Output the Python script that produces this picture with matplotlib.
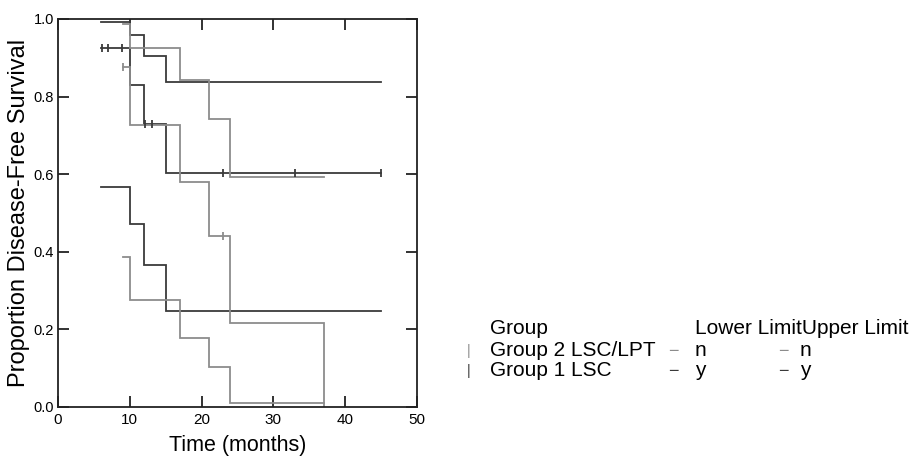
import matplotlib
matplotlib.use("Agg")
import matplotlib.pyplot as plt

# Kaplan-Meier style steps: value i holds from times[i] to times[i+1]
g1_times = [6, 10, 12, 15, 45]
g1_surv = [0.926, 0.830, 0.729, 0.604]
g1_lower = [0.568, 0.472, 0.366, 0.247]
g1_upper = [0.991, 0.959, 0.905, 0.838]
g1_censor = [6.1, 6.9, 8.9, 12.1, 13.1, 23.0, 33.0, 45.0]

g2_times = [9, 10, 17, 21, 24, 37]
g2_surv = [0.877, 0.727, 0.581, 0.441, 0.217]
g2_surv_end = 0.0
g2_lower = [0.386, 0.277, 0.179, 0.103, 0.011]
g2_upper = [0.986, 0.926, 0.843, 0.742, 0.594]
g2_censor = [9.0, 23.0]

x_ticks = [0, 10, 20, 30, 40, 50]
y_ticks = [0.0, 0.2, 0.4, 0.6, 0.8, 1.0]

dark = '#3a3a3a'
gray = '#8c8c8c'

plt.rcParams['font.family'] = ['Liberation Sans', 'DejaVu Sans']


def value_at(times, vals, t):
    v = vals[0]
    for i in range(len(vals)):
        if t >= times[i]:
            v = vals[i]
    return v


def draw_step(ax, times, vals, color, end=None):
    y = list(vals) + [vals[-1] if end is None else end]
    ax.plot(times, y, drawstyle='steps-post', color=color, lw=1.3,
            solid_joinstyle='miter')


fig = plt.figure(figsize=(9.12, 4.59), dpi=100)
ax = fig.add_axes([58 / 912, 52 / 459, 359 / 912, 388 / 459])

draw_step(ax, g1_times, g1_upper, dark)
draw_step(ax, g1_times, g1_lower, dark)
draw_step(ax, g1_times, g1_surv, dark)
draw_step(ax, g2_times, g2_upper, gray)
draw_step(ax, g2_times, g2_lower, gray)
draw_step(ax, g2_times, g2_surv, gray, end=g2_surv_end)

ax.plot(g1_censor, [value_at(g1_times, g1_surv, t) for t in g1_censor],
        ls='none', marker='|', ms=6, mew=1.3, color=dark)
ax.plot(g2_censor, [value_at(g2_times, g2_surv, t) for t in g2_censor],
        ls='none', marker='|', ms=6, mew=1.3, color=gray)

ax.set_xlim(0, 50)
ax.set_ylim(0, 1.0)
ax.set_xticks(x_ticks)
ax.set_yticks(y_ticks)
ax.set_xticklabels([str(t) for t in x_ticks], fontsize=11)
ax.set_yticklabels(['%.1f' % v for v in y_ticks], fontsize=10.5)
ax.tick_params(direction='in', length=8, width=1.3, top=True, right=True,
               color='#222222', pad=4)
ax.tick_params(axis='y', pad=3)
for s in ax.spines.values():
    s.set_linewidth(1.3)
    s.set_color('#222222')

ax.set_xlabel('Time (months)', fontsize=15.5, labelpad=6)
ax.set_ylabel('Proportion Disease-Free Survival', fontsize=17)
ax.yaxis.set_label_coords(-0.078, 0.5)

# legend drawn as text table
fs = 15
fig.text(490 / 912, 1 - 334 / 459, 'Group', fontsize=fs, va='baseline')
fig.text(695 / 912, 1 - 334 / 459, 'Lower LimitUpper Limit', fontsize=fs, va='baseline')
rows = [('Group 2 LSC/LPT', 'n', gray), ('Group 1 LSC', 'y', dark)]
for i, (name, flag, col) in enumerate(rows):
    yb = 1 - (356 + 20 * i) / 459
    fig.text(469 / 912, yb + 0.002, '|', fontsize=10, color=col, va='baseline', ha='center')
    fig.text(490 / 912, yb, name, fontsize=fs, va='baseline')
    fig.text(673 / 912, yb, '\u2212', fontsize=13, color=col, va='baseline', ha='center')
    fig.text(695 / 912, yb, flag, fontsize=fs, va='baseline')
    fig.text(783 / 912, yb, '\u2212', fontsize=13, color=col, va='baseline', ha='center')
    fig.text(800 / 912, yb, flag, fontsize=fs, va='baseline')

fig.savefig('out.png', dpi=100)
